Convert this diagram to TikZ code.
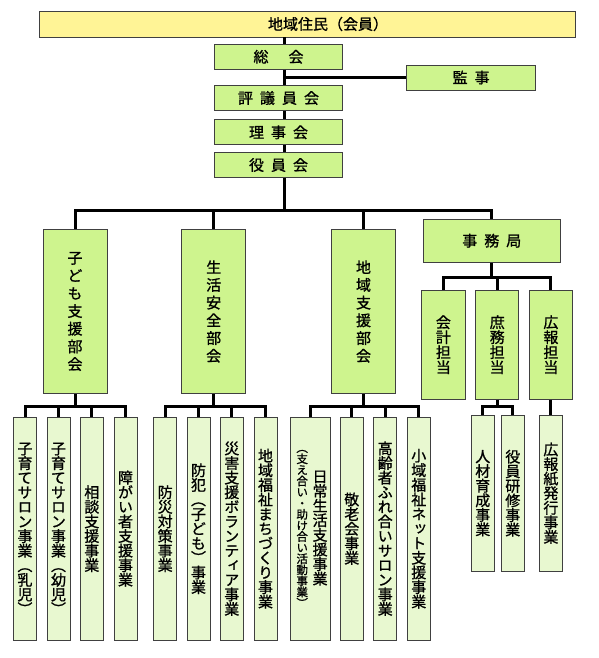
\documentclass[tikz,border=0pt]{standalone}
\usepackage{fontspec}
\setmainfont{Noto Sans CJK JP}[FakeBold=1]
\newfontfamily\tatefont[RawFeature=+vert, FakeBold=1]{Noto Sans CJK JP}
\usepackage{xcolor}
\usepackage{tikz}

% 竖排: 一字一行
\newcommand\tate[1]{\parbox[c]{1.2em}{\centering\expandafter\tateA#1\relax}}
\def\tateA#1{#1\tateB}
\def\tateB#1{\ifx\relax#1\expandafter\tateEnd\else\expandafter\tateC\fi#1}
\def\tateC#1{\\#1\tateB}
\def\tateEnd#1{}
\newcommand\jgap{\hspace{7pt}}

\begin{document}
\begin{tikzpicture}[x=1pt,y=-1pt,
		conn/.style={line width=3pt},
		box/.style={draw=black!75, line width=0.9pt, fill=boxgreen, inner sep=0pt, font=\fontsize{15}{17}\selectfont},
		toprow/.style={box, minimum width=128.4pt, minimum height=25pt},
		bukai/.style={box, minimum width=64pt, minimum height=164.4pt, font=\tatefont\fontsize{15}{17.7}\selectfont},
		tantou/.style={box, minimum width=43.3pt, minimum height=109.3pt, font=\tatefont\fontsize{15}{15}\selectfont},
		leaf/.style={box, fill=leafgreen, minimum width=23pt, minimum height=222.7pt, font=\tatefont\fontsize{15}{14.6}\selectfont}]
				% 颜色列表
				\definecolor{juuminyellow}{RGB}{255,244,150}
				\definecolor{boxgreen}{RGB}{206,244,142}
				\definecolor{leafgreen}{RGB}{232,248,208}
				\useasboundingbox (0,0) rectangle (598,658);
				
				% 上部
				\node[box, fill=juuminyellow, minimum width=536pt, minimum height=26pt] (juumin) at (307,24) {\hspace{42pt}地域住民（会員）};
				\node[toprow] (soukai) at (278.5,56.8) {総\hspace{20pt}会};
				\node[toprow] (kansa) at (471.1,77.5) {監\jgap 事};
				\node[toprow] (hyougi) at (278.5,98) {評\jgap 議\jgap 員\jgap 会};
				\node[toprow] (riji) at (278.5,132.3) {理\jgap 事\jgap 会};
				\node[toprow] (yakuin) at (278.5,165) {役\jgap 員\jgap 会};
				
				% 部会, 事務局
				\node[bukai] (kodomo) at (75,311.5) {\tate{子ども支援部会}};
				\node[bukai] (seikatsu) at (213.7,311.5) {\tate{生活安全部会}};
				\node[bukai] (chiiki) at (363.5,311.5) {\tate{地域支援部会}};
				\node[box, minimum width=137pt, minimum height=42.7pt] (jimu) at (491.8,240.7) {事\jgap 務\jgap 局\hspace{12pt}};
				
				\node[tantou] (kaikei) at (443.4,344.7) {\tate{会計担当}};
				\node[tantou] (shomu) at (497.2,344.7) {\tate{庶務担当}};
				\node[tantou] (kouhou) at (550.9,344.7) {\tate{広報担当}};
				
				% 事業
				\foreach \x/\n/\txt in {25/ko1/子育てサロン事業（乳児）,58.5/ko2/子育てサロン事業（幼児）,91.8/ko3/相談支援事業,125.5/ko4/障がい者支援事業,
					165.2/se1/防災対策事業,198.5/se2/防犯（子ども）事業,231.8/se3/災害支援ボランティア事業,265.5/se4/地域福祉まちづくり事業,
					351.8/ch2/敬老会事業,385.2/ch3/高齢者ふれ合いサロン事業,418.8/ch4/小域福祉ネット支援事業}
				\node[leaf] (\n) at (\x,528.7) {\tate{\txt}};
				
				\node[leaf, minimum width=39.7pt] (ch1) at (310.2,528.7) {\hspace{4pt}{\fontsize{11.5}{11.1}\selectfont\tate{（支え合い・助け合い活動事業）}}\hspace{2pt}\tate{日常生活支援事業}};
				
				\foreach \x/\n/\txt in {482.8/sh1/人材育成事業,512.8/sh2/役員研修事業,550.9/kh1/広報紙発行事業}
				\node[leaf, minimum height=155.7pt] (\n) at (\x,493.2) {\tate{\txt}};
				
				% 连线
				\coordinate (b1) at (284,210.3);
				\coordinate (jv) at (0,277.3);
				\coordinate (lv) at (0,406);
				
				\draw[conn] (juumin.south -| b1) -- (soukai.north -| b1);
				\draw[conn] (soukai.south -| b1) -- (hyougi.north -| b1);
				\draw[conn] (kansa.west) -- (kansa.west -| b1);
				\draw[conn] (hyougi.south -| b1) -- (riji.north -| b1);
				\draw[conn] (riji.south -| b1) -- (yakuin.north -| b1);
				\draw[conn] (yakuin.south -| b1) -- (b1);
				
				\draw[conn] (kodomo.north) |- (jimu.north |- b1) -- (jimu.north);
				\foreach \n in {seikatsu,chiiki}
				\draw[conn] (\n.north) -- (\n.north |- b1);
				
				\draw[conn] (jimu.south) -- (jimu.south |- jv);
				\draw[conn] (kaikei.north) |- (kouhou.north |- jv) -- (kouhou.north);
				\draw[conn] (shomu.north) -- (shomu.north |- jv);
				
				% 事業への線
				\foreach \p in {kodomo,seikatsu,chiiki,shomu}
				\draw[conn] (\p.south) -- (\p.south |- lv);
				\draw[conn] (ko1.north) |- (ko4.north |- lv) -- (ko4.north);
				\draw[conn] (se1.north) |- (se4.north |- lv) -- (se4.north);
				\draw[conn] (ch1.north) |- (ch4.north |- lv) -- (ch4.north);
				\draw[conn] (sh1.north) |- (sh2.north |- lv) -- (sh2.north);
				\foreach \n in {ko2,ko3,se2,se3,ch2,ch3}
				\draw[conn] (\n.north) -- (\n.north |- lv);
				\draw[conn] (kouhou.south) -- (kh1.north);
				
\end{tikzpicture}
\end{document}
